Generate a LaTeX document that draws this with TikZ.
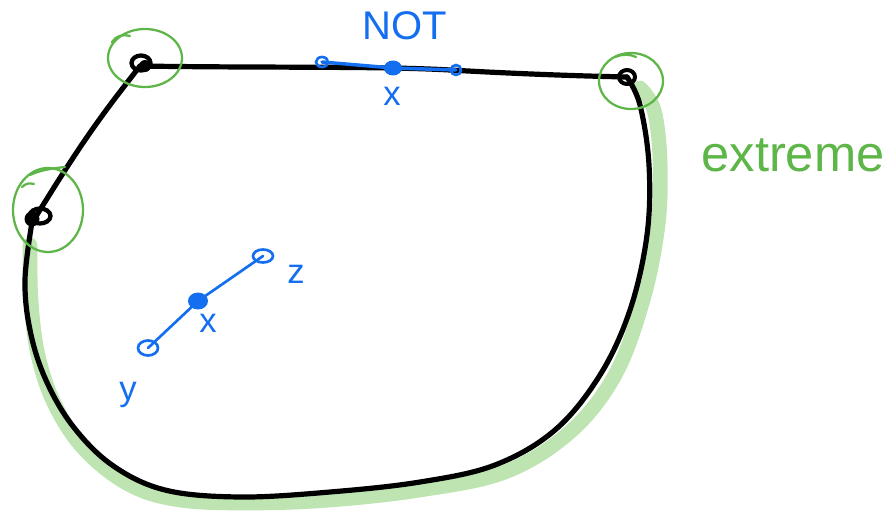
\documentclass[tikz,border=0pt]{standalone}
\usepackage{fontspec}
\setmainfont{Liberation Sans}
\definecolor{inkblue}{RGB}{20,110,240}
\definecolor{inkgreen}{RGB}{95,182,72}
\definecolor{hlgreen}{RGB}{190,228,178}
\begin{document}
\begin{tikzpicture}[x=0.75pt,y=-0.75pt,
  ink/.style={black,line width=3.9pt,line cap=round,line join=round},
  ring/.style={inkgreen,line width=1.7pt,line cap=round},
  bl/.style={inkblue,line width=2pt,line cap=round},
  hl/.style={hlgreen,line width=11pt,line cap=round,line join=round},
  lbl/.style={inkblue,font=\fontsize{26}{26}\selectfont,inner sep=0pt}]
\useasboundingbox (0,0) rectangle (888,510);
% highlight band
\draw[hl] plot[smooth,tension=0.6] coordinates {(30,245) (31,300) (38,355) (55,405) (85,450) (130,485) (180,500) (250,503) (330,500) (420,490) (505,472) (570,432) (615,375) (643,300) (658,225) (660,160) (654,110) (640,88)};
% main outline
\coordinate (tl) at (140,66);
\coordinate (tr) at (627,77);
\coordinate (lv) at (35,218);
\draw[ink] (tl) .. controls (260,68) and (380,66) .. (450,70) .. controls (520,74) and (580,76) .. (tr);
\draw[ink] plot[smooth,tension=0.6] coordinates {(627,77) (640,105) (649,165) (647,235) (630,310) (600,375) (555,430) (495,465) (420,482) (330,492) (240,497) (165,490) (112,465) (72,425) (45,378) (30,330) (25,280) (32,222)};
\draw[ink] plot[smooth,tension=0.6] coordinates {(35,218) (60,178) (85,140) (110,105) (140,66)};
% vertex loops
\draw[black,line width=3.2pt] (141,63) ellipse (9.5 and 7.5);
\fill[black] (145,66) circle (6);
\draw[black,line width=3.2pt] (40,216) ellipse (10.5 and 7.5);
\fill[black] (32,219) circle (7.5);
\draw[black,line width=3pt] (627,77) ellipse (8 and 7);
% green rings
\draw[ring] (145,58) ellipse (37 and 29);
\draw[ring] (112,42) .. controls (116,36) and (122,34) .. (130,36);
\draw[ring] (48,210) ellipse (35 and 42);
\draw[ring] (30,175) .. controls (40,170) and (55,168) .. (65,167);
\draw[ring] (22,187) .. controls (26,183) and (30,183) .. (34,184);
\draw[ring] (631,81) ellipse (32 and 28);
\draw[ring] (615,57) .. controls (622,54) and (630,54) .. (636,57);
% blue top segment
\coordinate (ta) at (322,62);
\coordinate (tb) at (456,70);
\coordinate (tx) at (393,68);
\draw[bl,line width=2.6pt] (ta) -- (tx) -- (tb);
\draw[bl] (ta) ellipse (6 and 5);
\draw[bl] (tb) ellipse (5 and 5);
\fill[inkblue] (tx) ellipse (9 and 7.5);
\node[lbl,font=\fontsize{30}{30}\selectfont] (nottxt) at (405,26) {NOT};
\node[lbl] (xtop) at (392,96) {x};
% blue lower segment
\coordinate (la) at (148,348);
\coordinate (lx) at (198,301);
\coordinate (lb) at (263,256);
\draw[bl] (la) -- (lx) -- (lb);
\draw[bl] (la) ellipse (10 and 7.5);
\draw[bl] (lb) ellipse (10 and 6.5);
\fill[inkblue] (lx) ellipse (10 and 8.5);
\node[lbl] (zlbl) at (296,274) {z};
\node[lbl] (xlbl) at (208,323) {x};
\node[lbl] (ylbl) at (128,395) {y};
% label
\node[inkgreen,font=\fontsize{38}{38}\selectfont,inner sep=0pt] (ext) at (793,155) {extreme};
\end{tikzpicture}
\end{document}
